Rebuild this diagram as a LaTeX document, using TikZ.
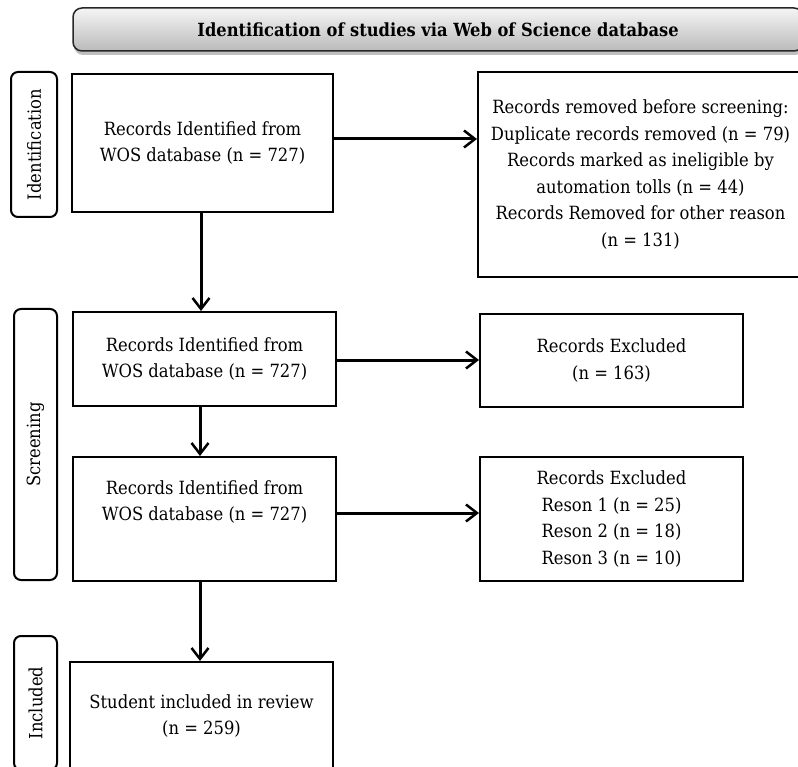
\documentclass[tikz,border=0pt]{standalone}
\usepackage{fontspec}
\setmainfont{DejaVu Serif Condensed}
\usetikzlibrary{arrows.meta,shadows}
\begin{document}
\begin{tikzpicture}[x=1pt,y=-1pt,
  txt/.style={font=\fontsize{18.2}{26.6}\selectfont},
  box/.style={txt,draw=black,line width=2pt,align=center,inner sep=0pt},
  phase/.style={txt,draw=black,line width=2pt,rounded corners=7pt,rotate=90,inner sep=0pt},
  flow/.style={line width=3pt,-{Straight Barb[length=11pt,width=17pt,line width=2.5pt]}},
  titlebox/.style={draw=black!85,line width=1.5pt,rounded corners=9pt,
    top color=black!4,bottom color=black!27,
    drop shadow={shadow xshift=1pt,shadow yshift=-4pt,opacity=0.25,fill=black},
    font=\bfseries\fontsize{18.1}{20}\selectfont,inner sep=0pt}
]
\useasboundingbox (0,0) rectangle (798,767);

% title
\node[titlebox,minimum width=730pt,minimum height=43pt] (title) at (438,29.5) {Identification of studies via Web of Science database};

% phase labels
\node[phase,minimum width=145pt,minimum height=46pt] (lid) at (34,144.5) {Identification};
\node[phase,minimum width=271pt,minimum height=43pt] (lsc) at (35.5,444.5) {Screening};
\node[phase,minimum width=134pt,minimum height=43pt] (lin) at (35.5,703) {Included};

% left column
\node[box,minimum width=261pt,minimum height=138pt] (b1) at (202.5,143) {Records Identified from\\WOS database (n = 727)};
\node[box,minimum width=263pt,minimum height=94pt] (b2) at (204.5,359) {Records Identified from\\WOS database (n = 727)};
\node[box,minimum width=263pt,minimum height=124pt] (b3) at (204.5,519) {Records Identified from\\WOS database (n = 727)\\[10pt]};
\node[box,minimum width=263pt,minimum height=108pt] (b4) at (201.5,716) {Student included in review\\(n = 259)};

% right column
\node[box,minimum width=325pt,minimum height=205pt] (r1) at (640.5,174.5) {Records removed before screening:\\Duplicate records removed (n = 79)\\Records marked as ineligible by\\automation tolls (n = 44)\\Records Removed for other reason\\(n = 131)};
\node[box,minimum width=263pt,minimum height=93pt] (r2) at (611.5,360.5) {Records Excluded\\(n = 163)};
\node[box,minimum width=263pt,minimum height=124pt] (r3) at (611.5,519) {Records Excluded\\Reson 1 (n = 25)\\Reson 2 (n = 18)\\Reson 3 (n = 10)};

% connectors
\draw[flow] (b1.east |- 0,139) -- (r1.west |- 0,139);
\draw[flow] (b2.east |- 0,360) -- (r2.west |- 0,360);
\draw[flow] (b3.east |- 0,513) -- (r3.west |- 0,513);
\draw[flow] (b1.south -| 201,0) -- (b2.north -| 201,0);
\draw[flow] (b2.south -| 200,0) -- (b3.north -| 200,0);
\draw[flow] (b3.south -| 200,0) -- (b4.north -| 200,0);
\end{tikzpicture}
\end{document}
